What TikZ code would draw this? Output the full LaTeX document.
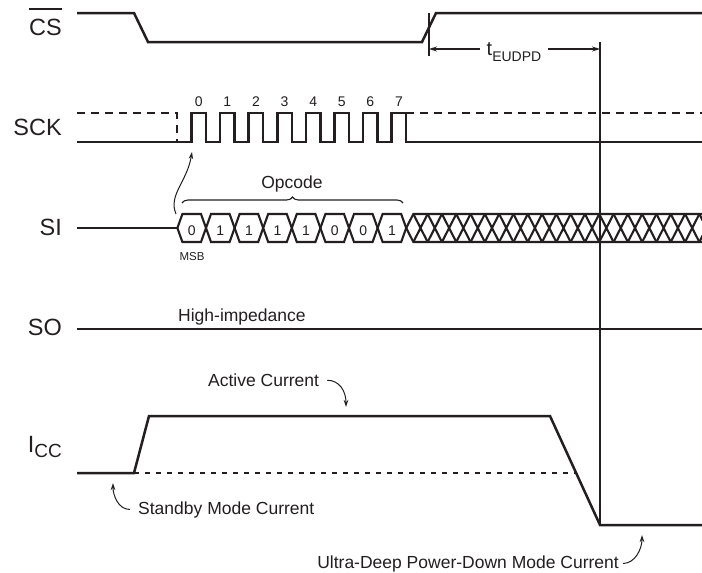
\documentclass[tikz,border=0pt]{standalone}
\usepackage{fontspec}
\setmainfont{Liberation Sans}
\usepackage{tikz}
\usetikzlibrary{arrows.meta,decorations.pathreplacing}
\definecolor{ink}{HTML}{231F20}

\begin{document}
\begin{tikzpicture}[x=1pt, y=-1pt, color=ink,
		wave/.style={line width=2.5pt, line join=miter},
		hexline/.style={line width=2.1pt, line join=miter},
		thinline/.style={line width=1.1pt},
		labelarrow/.style={line width=1pt, -{Stealth[length=7pt,width=4.5pt]}},
		siglabel/.style={anchor=base east, inner sep=0pt, font=\fontsize{23.5}{26}\selectfont},
		note/.style={inner sep=0pt, font=\fontsize{17.5}{20}\selectfont},
		bit/.style={anchor=base, inner sep=0pt, font=\fontsize{14}{16}\selectfont}]
		\useasboundingbox (0,0) rectangle (702,573);
		\fill[white] (0,0) rectangle (702,573);

		\node[siglabel] (cs) at (62,35) {CS};
		\draw[line width=1.5pt] ([yshift=9.5pt]cs.north west) -- ([yshift=9.5pt]cs.north east);
		\node[siglabel] (sck) at (62,135) {SCK};
		\node[siglabel] (si) at (62,235) {SI};
		\node[siglabel] (so) at (62,335) {SO};
		\node[siglabel] (icc) at (62,452) {I\raisebox{-5pt}{\fontsize{19}{21}\selectfont CC}};

		\draw[wave] (77,13) -- (134,13) -- (148,42) -- (422,42) -- (436,13) -- (702,13);
		\draw[thinline] (429,13) -- (429,56);
		\draw[thinline] (600,42) -- (600,525);
		\node[inner sep=0pt, anchor=base] (teudpd) at (514,55) {\fontsize{20}{22}\selectfont t\raisebox{-6.7pt}{\fontsize{14}{16}\selectfont EUDPD}};
		\coordinate (tstart) at (429,49);
		\coordinate (tend) at (600,49);
		\draw[thinline, -{Stealth[length=8pt,width=5pt]}] ([xshift=-7pt]teudpd.west |- tstart) -- (tstart);
		\draw[thinline, -{Stealth[length=8pt,width=5pt]}] ([xshift=7pt]teudpd.east |- tend) -- (tend);

		\draw[wave, dash pattern=on 8pt off 6pt] (77,113) -- (177,113) -- (177,142);
		\draw[wave] (77,142) \foreach \k in {0,...,7} { -- ({191.5+28.6*\k},142) -- ({191.5+28.6*\k},113) -- ({206+28.6*\k},113) -- ({206+28.6*\k},142) } -- (702,142);
		\draw[wave, dash pattern=on 8pt off 6pt] (406.2,113) -- (702,113);
		\foreach \n in {0,...,7}
			\node[bit] (clk\n) at ({198.75+28.6*\n},106.5) {\n};

		\draw[wave] (77,228) -- (177.4,228);
		\foreach \b [count=\k from 0] in {0,1,1,1,1,0,0,1} {
			\draw[hexline] ({177.4+28.6*\k},228) -- ++(5,-14) -- ++(18.6,0) -- ++(5,14) -- ++(-5,14) -- ++(-18.6,0) -- cycle;
			\node[bit] (bit\k) at ({191.7+28.6*\k},235) {\b};
		}
		\begin{scope}
			\clip (0,0) rectangle (702,573);
			\draw[hexline] (406.2,228) -- (413.35,214) -- (702,214);
			\draw[hexline] (406.2,228) -- (413.35,242) -- (702,242);
			\foreach \j in {0,...,20}
				\draw[hexline] ({413.35+14.3*\j},214) -- ++(14.3,28) ({413.35+14.3*\j},242) -- ++(14.3,-28);
		\end{scope}
		\node[anchor=base, inner sep=0pt, font=\fontsize{11.5}{13}\selectfont] (msb) at (192,260) {MSB};
		\draw[thinline, decorate, decoration={brace, amplitude=6pt}] (182,203) -- (403,203);
		\node[note, anchor=base] (opcode) at (292,188) {Opcode};
		\coordinate (sistart) at (176,214);
		\coordinate (sckedge) at (192,152);
		\draw[labelarrow] (sistart) .. controls (168,195) and (187,182) .. (sckedge);

		\draw[wave] (77,329) -- (702,329);
		\node[note, anchor=base west] (hiz) at (178,321.5) {High-impedance};

		\draw[wave] (77,473) -- (134,473) -- (149,416) -- (550,416) -- (600,525) -- (702,525);
		\draw[thinline, dash pattern=on 5pt off 6pt] (134,473) -- (576,473);
		\node[note, anchor=base west] (active) at (208,386.5) {Active Current};
		\coordinate (activetip) at (346,407);
		\draw[labelarrow] ([xshift=8pt]active.east) .. controls +(12,0) and +(0,-16) .. (activetip);
		\node[note, anchor=base west] (standby) at (138,514) {Standby Mode Current};
		\coordinate (standbytip) at (113,483);
		\draw[labelarrow] ([xshift=-8pt]standby.west) .. controls +(-12,0) and +(0,12) .. (standbytip);
		\node[note, anchor=base east] (udpd) at (619,568) {Ultra-Deep Power-Down Mode Current};
		\coordinate (udpdtip) at (642,535);
		\draw[labelarrow] ([xshift=4pt]udpd.east) .. controls +(12,0) and +(0,14) .. (udpdtip);
	\end{tikzpicture}
\end{document}
